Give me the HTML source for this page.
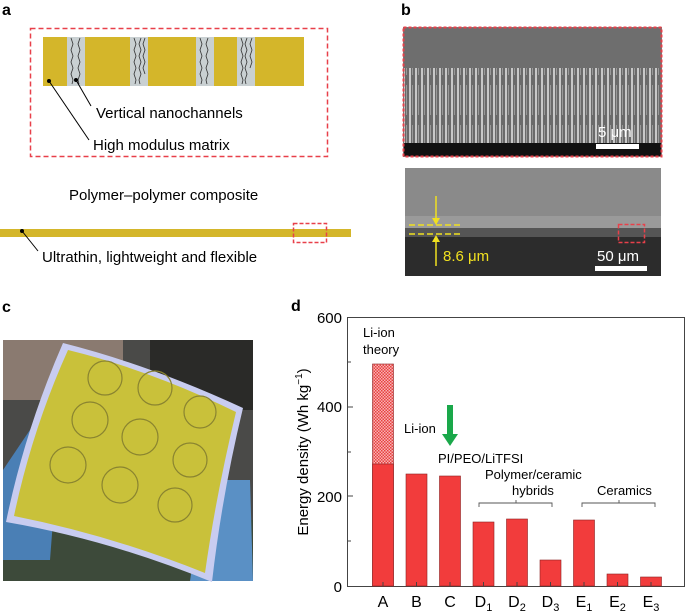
<!DOCTYPE html>
<html><head><meta charset="utf-8"><style>
html,body{margin:0;padding:0;background:#fff;}
svg{display:block;font-family:"Liberation Sans",Arial,sans-serif;}
</style></head><body>
<svg width="685" height="611" viewBox="0 0 685 611" xmlns="http://www.w3.org/2000/svg">
<defs>
<pattern id="chk" width="3" height="3" patternUnits="userSpaceOnUse">
<rect width="3" height="3" fill="#f7b4b4"/><rect width="1.5" height="1.5" fill="#e84040"/><rect x="1.5" y="1.5" width="1.5" height="1.5" fill="#e84040"/>
</pattern>
<pattern id="fib" width="6" height="40" patternUnits="userSpaceOnUse">
<rect width="6" height="40" fill="#6a6a6a"/><rect x="1" width="2" height="40" fill="#c8c8c8"/><rect x="4" y="5" width="1" height="30" fill="#999"/>
</pattern>
</defs>
<!-- panel a -->
<text x="2" y="15" font-size="16" font-weight="bold">a</text>
<rect x="30.5" y="28.5" width="297" height="128" fill="none" stroke="#e8404a" stroke-width="1.5" stroke-dasharray="5,3"/>
<rect x="43" y="37" width="261" height="49" fill="#d4b62a"/>
<g fill="#c9d0d2">
<rect x="67" y="37" width="18" height="49"/><rect x="130" y="37" width="18" height="49"/><rect x="196" y="37" width="18" height="49"/><rect x="237" y="37" width="18" height="49"/>
</g>
<g stroke="#333" stroke-width="0.8" fill="none">
<path d="M71 38 l2 6 -2 6 2 6 -2 6 2 6 -2 6 2 6 -1 4"/><path d="M80 38 l-2 6 2 6 -2 6 2 6 -2 6 2 6 -2 6 1 4"/>
<path d="M134 38 l2 6 -2 6 2 6 -2 6 2 6 -2 6 2 6 -1 4"/><path d="M141 38 l-2 6 2 6 -2 6 2 6 -2 6 2 6 -2 6 1 4"/><path d="M145 38 l-2 6 2 6 -2 6 2 6 -2 6 2 6"/>
<path d="M200 38 l2 6 -2 6 2 6 -2 6 2 6 -2 6 2 6 -1 4"/><path d="M208 38 l-2 6 2 6 -2 6 2 6 -2 6 2 6 -2 6 1 4"/>
<path d="M241 38 l2 6 -2 6 2 6 -2 6 2 6 -2 6 2 6 -1 4"/><path d="M247 38 l-2 6 2 6 -2 6 2 6 -2 6 2 6 -2 6 1 4"/><path d="M252 38 l-2 6 2 6 -2 6 2 6 -2 6"/>
</g>
<circle cx="49" cy="81" r="2" fill="#000"/><line x1="49" y1="81" x2="89" y2="140" stroke="#000"/>
<circle cx="76" cy="80" r="2" fill="#000"/><line x1="76" y1="80" x2="91" y2="106" stroke="#000"/>
<text x="96" y="118" font-size="15">Vertical nanochannels</text>
<text x="93" y="150" font-size="15">High modulus matrix</text>
<text x="69" y="200" font-size="15">Polymer–polymer composite</text>
<rect x="0" y="229" width="351" height="8" fill="#d4b62a"/>
<rect x="293.5" y="223.5" width="33" height="19" fill="none" stroke="#e8404a" stroke-width="1.5" stroke-dasharray="4,2"/>
<circle cx="22" cy="231" r="2" fill="#000"/><line x1="22" y1="231" x2="38" y2="251" stroke="#000"/>
<text x="42" y="262" font-size="15">Ultrathin, lightweight and flexible</text>
<!-- panel b -->
<text x="401" y="15" font-size="16" font-weight="bold">b</text>
<rect x="403" y="27" width="259" height="130" fill="#777"/>
<rect x="404" y="28" width="257" height="40" fill="#6e6e6e"/>
<rect x="404" y="68" width="257" height="77" fill="url(#fib)"/>
<rect x="404" y="143" width="257" height="13" fill="#111"/>
<rect x="403.5" y="27.5" width="258" height="129" fill="none" stroke="#e8404a" stroke-width="2" stroke-dasharray="3,2"/>
<text x="598" y="137" font-size="15" fill="#fff">5 μm</text>
<rect x="596" y="144" width="43" height="5" fill="#fff"/>
<rect x="405" y="168" width="256" height="108" fill="#2c2c2c"/>
<rect x="405" y="168" width="256" height="60" fill="#8a8a8a"/>
<rect x="405" y="216" width="256" height="12" fill="#9a9a9a"/>
<rect x="405" y="228" width="256" height="9" fill="#555"/>
<g stroke="#f0e020" stroke-width="1.5" fill="#f0e020">
<line x1="409" y1="225" x2="461" y2="225" stroke-dasharray="6,3"/><line x1="409" y1="234" x2="461" y2="234" stroke-dasharray="6,3"/>
<line x1="436" y1="196" x2="436" y2="220"/><path d="M432 218 L440 218 L436 225 Z" stroke="none"/>
<line x1="436" y1="240" x2="436" y2="266"/><path d="M432 242 L440 242 L436 235 Z" stroke="none"/>
</g>
<text x="443" y="261" font-size="15" fill="#f0e020">8.6 μm</text>
<rect x="618.5" y="224.5" width="26" height="18" fill="none" stroke="#e8404a" stroke-width="1.5" stroke-dasharray="4,2"/>
<text x="597" y="261" font-size="15" fill="#fff">50 μm</text>
<rect x="595" y="266" width="52" height="5" fill="#fff"/>
<!-- panel c -->
<text x="2" y="312" font-size="16" font-weight="bold">c</text>
<rect x="3" y="340" width="250" height="241" fill="#4a4a48"/>
<rect x="3" y="340" width="120" height="60" fill="#8a7a70"/>
<rect x="150" y="340" width="103" height="70" fill="#2a2a28"/>
<rect x="3" y="520" width="250" height="61" fill="#3d4a3a"/>
<path d="M3 470 L40 415 L60 430 L50 560 L3 560 Z" fill="#4a7fb5"/>
<path d="M205 480 L250 480 L253 581 L190 581 Z" fill="#5a90c5"/>
<path d="M63 343 Q150 365 243 408 Q222 495 212 582 Q110 540 6 522 Q25 430 63 343 Z" fill="#c8ccf0"/>
<path d="M68 350 Q150 370 236 412 Q216 495 205 573 Q110 535 14 516 Q32 430 68 350 Z" fill="#c9c13a"/>
<g fill="none" stroke="#8a8430" stroke-width="1.2">
<circle cx="105" cy="378" r="17"/><circle cx="155" cy="388" r="17"/><circle cx="200" cy="412" r="16"/>
<circle cx="90" cy="420" r="18"/><circle cx="140" cy="437" r="18"/><circle cx="190" cy="460" r="17"/>
<circle cx="68" cy="465" r="18"/><circle cx="120" cy="485" r="18"/><circle cx="175" cy="505" r="17"/>
</g>
<!-- panel d -->
<text x="291" y="311" font-size="16" font-weight="bold">d</text>
<text transform="translate(308,452) rotate(-90)" font-size="15" text-anchor="middle">Energy density (Wh kg<tspan font-size="10" dy="-6">−1</tspan><tspan dy="6">)</tspan></text>
<rect x="347.5" y="317.5" width="337" height="269" fill="none" stroke="#444" stroke-width="1"/>
<g stroke="#444">
<line x1="347" y1="362" x2="351" y2="362"/><line x1="347" y1="407" x2="353" y2="407"/><line x1="347" y1="452" x2="351" y2="452"/><line x1="347" y1="496" x2="353" y2="496"/><line x1="347" y1="541" x2="351" y2="541"/>
</g>
<g font-size="15" text-anchor="end">
<text x="342" y="323">600</text><text x="342" y="412">400</text><text x="342" y="502">200</text><text x="342" y="592">0</text>
</g>
<g fill="#f23c3c" stroke="#8a2020" stroke-width="0.6">
<rect x="372.5" y="364" width="21" height="222" fill="url(#chk)"/>
<rect x="372.5" y="464" width="21" height="122"/>
<rect x="406" y="474" width="21" height="112"/>
<rect x="439.5" y="476" width="21" height="110"/>
<rect x="473" y="522" width="21" height="64"/>
<rect x="506.5" y="519" width="21" height="67"/>
<rect x="540" y="560" width="21" height="26"/>
<rect x="573.5" y="520" width="21" height="66"/>
<rect x="607" y="574" width="21" height="12"/>
<rect x="640.5" y="577" width="21" height="9"/>
</g>
<g stroke="#444"><line x1="383" y1="582" x2="383" y2="586"/><line x1="416.5" y1="582" x2="416.5" y2="586"/><line x1="450" y1="582" x2="450" y2="586"/><line x1="483.5" y1="582" x2="483.5" y2="586"/><line x1="517" y1="582" x2="517" y2="586"/><line x1="550.5" y1="582" x2="550.5" y2="586"/><line x1="584" y1="582" x2="584" y2="586"/><line x1="617.5" y1="582" x2="617.5" y2="586"/><line x1="651" y1="582" x2="651" y2="586"/></g>
<g font-size="16" text-anchor="middle">
<text x="383" y="607">A</text><text x="416.5" y="607">B</text><text x="450" y="607">C</text>
<text x="483.5" y="607">D<tspan font-size="11" dy="4">1</tspan></text>
<text x="517" y="607">D<tspan font-size="11" dy="4">2</tspan></text>
<text x="550.5" y="607">D<tspan font-size="11" dy="4">3</tspan></text>
<text x="584" y="607">E<tspan font-size="11" dy="4">1</tspan></text>
<text x="617.5" y="607">E<tspan font-size="11" dy="4">2</tspan></text>
<text x="651" y="607">E<tspan font-size="11" dy="4">3</tspan></text>
</g>
<g font-size="13">
<text x="363" y="337">Li-ion</text><text x="363" y="354">theory</text>
<text x="404" y="433">Li-ion</text>
<text x="438" y="463">PI/PEO/LiTFSI</text>
<text x="485" y="479">Polymer/ceramic</text>
<text x="512" y="495">hybrids</text>
<text x="597" y="495">Ceramics</text>
</g>
<rect x="447" y="405" width="6" height="31" fill="#1aa84a"/>
<path d="M442 434 L458 434 L450 446 Z" fill="#1aa84a"/>
<g fill="none" stroke="#555" stroke-width="0.9">
<path d="M479 507 V503 H552 V507 M516 503 V500"/>
<path d="M582 507 V503 H655 V507 M619 503 V500"/>
</g>
</svg>
</body></html>
